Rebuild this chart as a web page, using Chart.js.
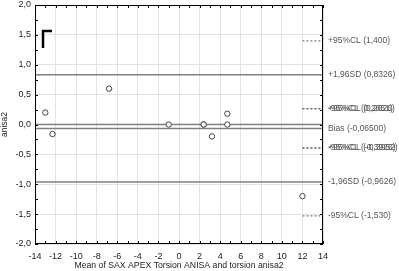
<!DOCTYPE html>
<html>
<head>
<meta charset="utf-8">
<script src="https://cdn.jsdelivr.net/npm/chart.js@4"></script>
<style>
  html, body { margin: 0; padding: 0; background: #fff; }
  #wrap { width: 399px; height: 271px; }
</style>
</head>
<body>
<div id="wrap"><canvas id="baChart" width="399" height="271"></canvas></div>
<script>
// valores
var meanVals = [-13, -12.3, -6.8, -1, 2.4, 2.4, 3.2, 4.7, 4.7, 12];
var diffVals = [0.2, -0.16, 0.6, 0, 0, 0, -0.2, 0.18, 0, -1.2];

var xTicks = [-14, -12, -10, -8, -6, -4, -2, 0, 2, 4, 6, 8, 10, 12, 14];
var yTicks = [-2, -1.5, -1, -0.5, 0, 0.5, 1, 1.5, 2];

// linhas de referência (contínuas)
var solidVals = [0, -0.065, 0.8326, -0.9626];
// limites de confiança (tracejadas, só no lado direito)
var clVals = [1.400, 0.2651, 0.2626, -0.3926, -0.3952, -1.530];
var clStartX = 12;

var labelVals = [1.400, 0.8326, 0.2651, 0.2626, -0.065, -0.3926, -0.3952, -0.9626, -1.530];
var labelTexts = [
  "+95%CL (1,400)",
  "+1,96SD (0,8326)",
  "-95%CL (0,2651)",
  "+95%CL (0,2626)",
  "Bias (-0,06500)",
  "-95%CL (-0,3926)",
  "+95%CL (-0,3952)",
  "-1,96SD (-0,9626)",
  "-95%CL (-1,530)"
];

var fonte = "'Liberation Sans', Arial, sans-serif";

var pontos = [];
for (var i = 0; i < meanVals.length; i++) {
  pontos.push({ x: meanVals[i], y: diffVals[i] });
}

var datasets = [];

for (var i = 0; i < solidVals.length; i++) {
  datasets.push({
    type: "line",
    data: [{ x: -14, y: solidVals[i] }, { x: 14, y: solidVals[i] }],
    borderColor: "#808080",
    borderWidth: 1.5,
    pointRadius: 0,
    order: 2,
  });
}

for (var i = 0; i < clVals.length; i++) {
  datasets.push({
    type: "line",
    data: [{ x: clStartX, y: clVals[i] }, { x: 14, y: clVals[i] }],
    borderColor: "#606060",
    borderWidth: 1,
    borderDash: [2, 2],
    pointRadius: 0,
    order: 2,
  });
}

datasets.push({
  type: "scatter",
  data: pontos,
  pointStyle: "circle",
  pointRadius: 2.7,
  pointBorderWidth: 1,
  pointBorderColor: "#404040",
  pointBackgroundColor: "#fff",
  order: 1,
});

var moldura = {
  id: "moldura",
  afterDraw: function (chart) {
    var ctx = chart.ctx;
    var a = chart.chartArea;
    var sx = chart.scales.x;
    var sy = chart.scales.y;

    ctx.save();
    ctx.strokeStyle = "#000";
    ctx.lineWidth = 1;
    ctx.strokeRect(a.left + 0.5, a.top + 0.5, a.right - a.left - 1, a.bottom - a.top - 1);

    // marcas menores
    ctx.beginPath();
    for (var v = -14; v <= 14; v += 1) {
      var px = Math.round(sx.getPixelForValue(v)) + 0.5;
      ctx.moveTo(px, a.bottom - 3);
      ctx.lineTo(px, a.bottom);
      ctx.moveTo(px, a.top);
      ctx.lineTo(px, a.top + 3);
    }
    for (var v = -2; v <= 2; v += 0.25) {
      var py = Math.round(sy.getPixelForValue(v)) + 0.5;
      ctx.moveTo(a.left, py);
      ctx.lineTo(a.left + 3, py);
      ctx.moveTo(a.right - 3, py);
      ctx.lineTo(a.right, py);
    }
    ctx.stroke();

    // canto superior esquerdo
    ctx.lineWidth = 2.5;
    ctx.beginPath();
    ctx.moveTo(a.left + 8, a.top + 43);
    ctx.lineTo(a.left + 8, a.top + 26);
    ctx.lineTo(a.left + 17, a.top + 26);
    ctx.stroke();

    // rótulos à direita
    ctx.fillStyle = "#555";
    ctx.font = "8.5px " + fonte;
    ctx.textBaseline = "middle";
    ctx.textAlign = "left";
    for (var i = 0; i < labelVals.length; i++) {
      ctx.fillText(labelTexts[i], a.right + 5, sy.getPixelForValue(labelVals[i]));
    }
    ctx.restore();
  },
};

new Chart(document.getElementById("baChart"), {
  data: { datasets: datasets },
  plugins: [moldura],
  options: {
    responsive: false,
    animation: false,
    events: [],
    layout: { padding: { top: 5, right: 76, left: 0, bottom: 0 } },
    plugins: {
      legend: { display: false },
      tooltip: { enabled: false },
    },
    scales: {
      x: {
        type: "linear",
        min: -14,
        max: 14,
        afterBuildTicks: function (scale) {
          scale.ticks = xTicks.map(function (v) { return { value: v }; });
        },
        afterFit: function (scale) {
          scale.height = 27;
          scale.paddingLeft = 0;
          scale.paddingRight = 0;
        },
        grid: { color: "#e2e2e2", drawTicks: false },
        border: { display: false },
        ticks: {
          color: "#222",
          padding: 7,
          maxRotation: 0,
          font: { family: fonte, size: 9 },
        },
        title: {
          display: true,
          text: "Mean of SAX APEX Torsion ANISA and torsion anisa2",
          color: "#222",
          padding: { top: 0, bottom: 0 },
          font: { family: fonte, size: 8.7 },
        },
      },
      y: {
        type: "linear",
        min: -2,
        max: 2,
        afterBuildTicks: function (scale) {
          scale.ticks = yTicks.map(function (v) { return { value: v }; });
        },
        afterFit: function (scale) {
          scale.width = 35;
          scale.paddingTop = 0;
          scale.paddingBottom = 0;
        },
        grid: { color: "#e2e2e2", drawTicks: false },
        border: { display: false },
        ticks: {
          color: "#222",
          padding: 4,
          font: { family: fonte, size: 9 },
          callback: function (value) {
            return value.toFixed(1).replace(".", ",");
          },
        },
        title: {
          display: true,
          text: "anisa2",
          color: "#222",
          padding: { top: 0, bottom: 0 },
          font: { family: fonte, size: 8.5 },
        },
      },
    },
  },
});
</script>
</body>
</html>
